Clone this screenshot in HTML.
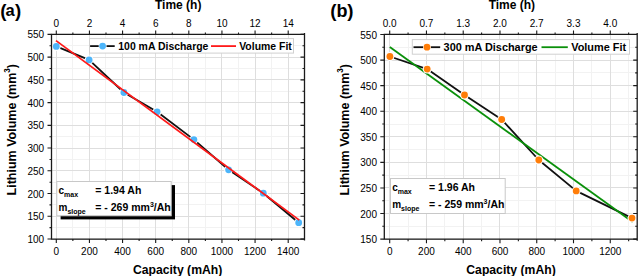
<!DOCTYPE html><html><head><meta charset="utf-8"><style>html,body{margin:0;padding:0;background:#fff;width:638px;height:276px;overflow:hidden}svg{display:block}</style></head><body>
<svg width="638" height="276" viewBox="0 0 638 276" font-family='"Liberation Sans", sans-serif' fill="#000">
<rect width="638" height="276" fill="#fff"/>
<line x1="72.50" y1="34.4" x2="72.50" y2="239.05" stroke="#f2f2f2" stroke-width="1"/>
<line x1="105.50" y1="34.4" x2="105.50" y2="239.05" stroke="#f2f2f2" stroke-width="1"/>
<line x1="139.50" y1="34.4" x2="139.50" y2="239.05" stroke="#f2f2f2" stroke-width="1"/>
<line x1="172.50" y1="34.4" x2="172.50" y2="239.05" stroke="#f2f2f2" stroke-width="1"/>
<line x1="205.50" y1="34.4" x2="205.50" y2="239.05" stroke="#f2f2f2" stroke-width="1"/>
<line x1="238.50" y1="34.4" x2="238.50" y2="239.05" stroke="#f2f2f2" stroke-width="1"/>
<line x1="271.50" y1="34.4" x2="271.50" y2="239.05" stroke="#f2f2f2" stroke-width="1"/>
<line x1="51.5" y1="45.50" x2="304.5" y2="45.50" stroke="#f2f2f2" stroke-width="1"/>
<line x1="51.5" y1="68.50" x2="304.5" y2="68.50" stroke="#f2f2f2" stroke-width="1"/>
<line x1="51.5" y1="91.50" x2="304.5" y2="91.50" stroke="#f2f2f2" stroke-width="1"/>
<line x1="51.5" y1="113.50" x2="304.5" y2="113.50" stroke="#f2f2f2" stroke-width="1"/>
<line x1="51.5" y1="136.50" x2="304.5" y2="136.50" stroke="#f2f2f2" stroke-width="1"/>
<line x1="51.5" y1="159.50" x2="304.5" y2="159.50" stroke="#f2f2f2" stroke-width="1"/>
<line x1="51.5" y1="182.50" x2="304.5" y2="182.50" stroke="#f2f2f2" stroke-width="1"/>
<line x1="51.5" y1="204.50" x2="304.5" y2="204.50" stroke="#f2f2f2" stroke-width="1"/>
<line x1="51.5" y1="227.50" x2="304.5" y2="227.50" stroke="#f2f2f2" stroke-width="1"/>
<line x1="56.50" y1="34.4" x2="56.50" y2="239.05" stroke="#dedede" stroke-width="1"/>
<line x1="89.50" y1="34.4" x2="89.50" y2="239.05" stroke="#dedede" stroke-width="1"/>
<line x1="122.50" y1="34.4" x2="122.50" y2="239.05" stroke="#dedede" stroke-width="1"/>
<line x1="155.50" y1="34.4" x2="155.50" y2="239.05" stroke="#dedede" stroke-width="1"/>
<line x1="188.50" y1="34.4" x2="188.50" y2="239.05" stroke="#dedede" stroke-width="1"/>
<line x1="221.50" y1="34.4" x2="221.50" y2="239.05" stroke="#dedede" stroke-width="1"/>
<line x1="255.50" y1="34.4" x2="255.50" y2="239.05" stroke="#dedede" stroke-width="1"/>
<line x1="288.50" y1="34.4" x2="288.50" y2="239.05" stroke="#dedede" stroke-width="1"/>
<line x1="51.5" y1="34.50" x2="304.5" y2="34.50" stroke="#dedede" stroke-width="1"/>
<line x1="51.5" y1="57.50" x2="304.5" y2="57.50" stroke="#dedede" stroke-width="1"/>
<line x1="51.5" y1="79.50" x2="304.5" y2="79.50" stroke="#dedede" stroke-width="1"/>
<line x1="51.5" y1="102.50" x2="304.5" y2="102.50" stroke="#dedede" stroke-width="1"/>
<line x1="51.5" y1="125.50" x2="304.5" y2="125.50" stroke="#dedede" stroke-width="1"/>
<line x1="51.5" y1="148.50" x2="304.5" y2="148.50" stroke="#dedede" stroke-width="1"/>
<line x1="51.5" y1="170.50" x2="304.5" y2="170.50" stroke="#dedede" stroke-width="1"/>
<line x1="51.5" y1="193.50" x2="304.5" y2="193.50" stroke="#dedede" stroke-width="1"/>
<line x1="51.5" y1="216.50" x2="304.5" y2="216.50" stroke="#dedede" stroke-width="1"/>
<line x1="51.5" y1="239.50" x2="304.5" y2="239.50" stroke="#dedede" stroke-width="1"/>
<rect x="89.5" y="38.6" width="204" height="14.5" fill="#fff" stroke="#d0d0d0" stroke-width="1"/>
<line x1="90.1" y1="46.1" x2="114.7" y2="46.1" stroke="#111" stroke-width="1.8"/>
<circle cx="102.6" cy="46.1" r="4.0" fill="#fff"/>
<circle cx="102.6" cy="46.1" r="3.4" fill="#4db5fa"/>
<text x="118.3" y="49.9" font-size="10.45" font-weight="bold">100 mA Discharge</text>
<line x1="211" y1="46.1" x2="236" y2="46.1" stroke="#ff1a1a" stroke-width="1.8"/>
<text x="239.2" y="49.9" font-size="10.45" font-weight="bold">Volume Fit</text>
<rect x="60.599999999999994" y="185.1" width="114.4" height="34.3" fill="#000"/>
<rect x="56.8" y="181.5" width="114.4" height="34.3" fill="#fff" stroke="#c8c8c8" stroke-width="1"/>
<text x="58.5" y="193.9" font-size="10" font-weight="bold">c<tspan font-size="7" dy="3.3">max</tspan></text>
<text x="58.5" y="211.1" font-size="10" font-weight="bold">m<tspan font-size="7" dy="3.3">slope</tspan></text>
<text x="95.3" y="193.9" font-size="10.5" font-weight="bold">= 1.94 Ah</text>
<text x="95.3" y="211.1" font-size="10.5" font-weight="bold">= - 269 mm<tspan font-size="7" dy="-4">3</tspan><tspan dy="4">/Ah</tspan></text>
<path d="M56.3,46.4 L89.1,59.9 L123.9,92.5 L157.1,111.8 L193.9,139.6 L228.6,169.8 L263.3,193.2 L298.7,222.7" fill="none" stroke="#111" stroke-width="1.8" stroke-linejoin="round"/>
<circle cx="56.3" cy="46.4" r="4.5" fill="#fff"/>
<circle cx="89.1" cy="59.9" r="4.5" fill="#fff"/>
<circle cx="123.9" cy="92.5" r="4.5" fill="#fff"/>
<circle cx="157.1" cy="111.8" r="4.5" fill="#fff"/>
<circle cx="193.9" cy="139.6" r="4.5" fill="#fff"/>
<circle cx="228.6" cy="169.8" r="4.5" fill="#fff"/>
<circle cx="263.3" cy="193.2" r="4.5" fill="#fff"/>
<circle cx="298.7" cy="222.7" r="4.5" fill="#fff"/>
<circle cx="56.3" cy="46.4" r="3.4" fill="#4db5fa"/>
<circle cx="89.1" cy="59.9" r="3.4" fill="#4db5fa"/>
<circle cx="123.9" cy="92.5" r="3.4" fill="#4db5fa"/>
<circle cx="157.1" cy="111.8" r="3.4" fill="#4db5fa"/>
<circle cx="193.9" cy="139.6" r="3.4" fill="#4db5fa"/>
<circle cx="228.6" cy="169.8" r="3.4" fill="#4db5fa"/>
<circle cx="263.3" cy="193.2" r="3.4" fill="#4db5fa"/>
<circle cx="298.7" cy="222.7" r="3.4" fill="#4db5fa"/>
<line x1="56.0" y1="40.6" x2="299.3" y2="220.1" stroke="#ff1a1a" stroke-width="1.8"/>
<path d="M51.5,34.4 H304.5 M51.5,239.05 H304.5 M51.5,33.8 V239.65 M304.5,32.9 V240.55" stroke="#1a1a1a" stroke-width="1.3" fill="none"/>
<path d="M56.30,34.4 v-4 M56.30,239.05 v4 M89.43,34.4 v-4 M89.43,239.05 v4 M122.56,34.4 v-4 M122.56,239.05 v4 M155.68,34.4 v-4 M155.68,239.05 v4 M188.81,34.4 v-4 M188.81,239.05 v4 M221.94,34.4 v-4 M221.94,239.05 v4 M255.07,34.4 v-4 M255.07,239.05 v4 M288.20,34.4 v-4 M288.20,239.05 v4 M72.86,34.4 v-2 M72.86,239.05 v2 M105.99,34.4 v-2 M105.99,239.05 v2 M139.12,34.4 v-2 M139.12,239.05 v2 M172.25,34.4 v-2 M172.25,239.05 v2 M205.38,34.4 v-2 M205.38,239.05 v2 M238.50,34.4 v-2 M238.50,239.05 v2 M271.63,34.4 v-2 M271.63,239.05 v2 M51.5,34.40 h-4 M304.5,34.40 h-4 M51.5,57.13 h-4 M304.5,57.13 h-4 M51.5,79.87 h-4 M304.5,79.87 h-4 M51.5,102.60 h-4 M304.5,102.60 h-4 M51.5,125.34 h-4 M304.5,125.34 h-4 M51.5,148.07 h-4 M304.5,148.07 h-4 M51.5,170.81 h-4 M304.5,170.81 h-4 M51.5,193.55 h-4 M304.5,193.55 h-4 M51.5,216.28 h-4 M304.5,216.28 h-4 M51.5,239.02 h-4 M304.5,239.02 h-4 M51.5,45.77 h-2 M304.5,45.77 h-2 M51.5,68.50 h-2 M304.5,68.50 h-2 M51.5,91.24 h-2 M304.5,91.24 h-2 M51.5,113.97 h-2 M304.5,113.97 h-2 M51.5,136.71 h-2 M304.5,136.71 h-2 M51.5,159.44 h-2 M304.5,159.44 h-2 M51.5,182.18 h-2 M304.5,182.18 h-2 M51.5,204.91 h-2 M304.5,204.91 h-2 M51.5,227.65 h-2 M304.5,227.65 h-2" stroke="#1a1a1a" stroke-width="1.1" fill="none"/>
<text x="56.30" y="254.6" font-size="10" text-anchor="middle">0</text>
<text x="89.43" y="254.6" font-size="10" text-anchor="middle">200</text>
<text x="122.56" y="254.6" font-size="10" text-anchor="middle">400</text>
<text x="155.68" y="254.6" font-size="10" text-anchor="middle">600</text>
<text x="188.81" y="254.6" font-size="10" text-anchor="middle">800</text>
<text x="221.94" y="254.6" font-size="10" text-anchor="middle">1000</text>
<text x="255.07" y="254.6" font-size="10" text-anchor="middle">1200</text>
<text x="288.20" y="254.6" font-size="10" text-anchor="middle">1400</text>
<text x="56.30" y="26.7" font-size="10" text-anchor="middle">0</text>
<text x="89.43" y="26.7" font-size="10" text-anchor="middle">2</text>
<text x="122.56" y="26.7" font-size="10" text-anchor="middle">4</text>
<text x="155.68" y="26.7" font-size="10" text-anchor="middle">6</text>
<text x="188.81" y="26.7" font-size="10" text-anchor="middle">8</text>
<text x="221.94" y="26.7" font-size="10" text-anchor="middle">10</text>
<text x="255.07" y="26.7" font-size="10" text-anchor="middle">12</text>
<text x="288.20" y="26.7" font-size="10" text-anchor="middle">14</text>
<text x="44.2" y="38.40" font-size="10" text-anchor="end">550</text>
<text x="44.2" y="61.13" font-size="10" text-anchor="end">500</text>
<text x="44.2" y="83.87" font-size="10" text-anchor="end">450</text>
<text x="44.2" y="106.60" font-size="10" text-anchor="end">400</text>
<text x="44.2" y="129.34" font-size="10" text-anchor="end">350</text>
<text x="44.2" y="152.07" font-size="10" text-anchor="end">300</text>
<text x="44.2" y="174.81" font-size="10" text-anchor="end">250</text>
<text x="44.2" y="197.55" font-size="10" text-anchor="end">200</text>
<text x="44.2" y="220.28" font-size="10" text-anchor="end">150</text>
<text x="44.2" y="243.02" font-size="10" text-anchor="end">100</text>
<text x="178.2" y="9" font-size="12" font-weight="bold" text-anchor="middle">Time (h)</text>
<text x="177.6" y="273.5" font-size="12.2" font-weight="bold" text-anchor="middle">Capacity (mAh)</text>
<text transform="translate(15.6,129.7) rotate(-90)" font-size="12.5" font-weight="bold" text-anchor="middle">Lithium Volume (mm<tspan font-size="8.2" dy="-5.6">3</tspan><tspan dy="5.6">)</tspan></text>
<text x="0.2" y="16.9" font-size="18.7" font-weight="bold">(</text>
<text x="5.6" y="16.3" font-size="16.5" font-weight="bold">a</text>
<text x="14.9" y="16.9" font-size="18.7" font-weight="bold">)</text>
<line x1="408.50" y1="34.4" x2="408.50" y2="239.2" stroke="#f2f2f2" stroke-width="1"/>
<line x1="444.50" y1="34.4" x2="444.50" y2="239.2" stroke="#f2f2f2" stroke-width="1"/>
<line x1="481.50" y1="34.4" x2="481.50" y2="239.2" stroke="#f2f2f2" stroke-width="1"/>
<line x1="518.50" y1="34.4" x2="518.50" y2="239.2" stroke="#f2f2f2" stroke-width="1"/>
<line x1="555.50" y1="34.4" x2="555.50" y2="239.2" stroke="#f2f2f2" stroke-width="1"/>
<line x1="591.50" y1="34.4" x2="591.50" y2="239.2" stroke="#f2f2f2" stroke-width="1"/>
<line x1="628.50" y1="34.4" x2="628.50" y2="239.2" stroke="#f2f2f2" stroke-width="1"/>
<line x1="384.3" y1="47.50" x2="637.2" y2="47.50" stroke="#f2f2f2" stroke-width="1"/>
<line x1="384.3" y1="72.50" x2="637.2" y2="72.50" stroke="#f2f2f2" stroke-width="1"/>
<line x1="384.3" y1="98.50" x2="637.2" y2="98.50" stroke="#f2f2f2" stroke-width="1"/>
<line x1="384.3" y1="124.50" x2="637.2" y2="124.50" stroke="#f2f2f2" stroke-width="1"/>
<line x1="384.3" y1="149.50" x2="637.2" y2="149.50" stroke="#f2f2f2" stroke-width="1"/>
<line x1="384.3" y1="175.50" x2="637.2" y2="175.50" stroke="#f2f2f2" stroke-width="1"/>
<line x1="384.3" y1="200.50" x2="637.2" y2="200.50" stroke="#f2f2f2" stroke-width="1"/>
<line x1="384.3" y1="226.50" x2="637.2" y2="226.50" stroke="#f2f2f2" stroke-width="1"/>
<line x1="389.50" y1="34.4" x2="389.50" y2="239.2" stroke="#dedede" stroke-width="1"/>
<line x1="426.50" y1="34.4" x2="426.50" y2="239.2" stroke="#dedede" stroke-width="1"/>
<line x1="463.50" y1="34.4" x2="463.50" y2="239.2" stroke="#dedede" stroke-width="1"/>
<line x1="499.50" y1="34.4" x2="499.50" y2="239.2" stroke="#dedede" stroke-width="1"/>
<line x1="536.50" y1="34.4" x2="536.50" y2="239.2" stroke="#dedede" stroke-width="1"/>
<line x1="573.50" y1="34.4" x2="573.50" y2="239.2" stroke="#dedede" stroke-width="1"/>
<line x1="610.50" y1="34.4" x2="610.50" y2="239.2" stroke="#dedede" stroke-width="1"/>
<line x1="384.3" y1="34.50" x2="637.2" y2="34.50" stroke="#dedede" stroke-width="1"/>
<line x1="384.3" y1="60.50" x2="637.2" y2="60.50" stroke="#dedede" stroke-width="1"/>
<line x1="384.3" y1="85.50" x2="637.2" y2="85.50" stroke="#dedede" stroke-width="1"/>
<line x1="384.3" y1="111.50" x2="637.2" y2="111.50" stroke="#dedede" stroke-width="1"/>
<line x1="384.3" y1="136.50" x2="637.2" y2="136.50" stroke="#dedede" stroke-width="1"/>
<line x1="384.3" y1="162.50" x2="637.2" y2="162.50" stroke="#dedede" stroke-width="1"/>
<line x1="384.3" y1="187.50" x2="637.2" y2="187.50" stroke="#dedede" stroke-width="1"/>
<line x1="384.3" y1="213.50" x2="637.2" y2="213.50" stroke="#dedede" stroke-width="1"/>
<line x1="384.3" y1="239.50" x2="637.2" y2="239.50" stroke="#dedede" stroke-width="1"/>
<rect x="412.3" y="39.6" width="217.2" height="14.6" fill="#fff" stroke="#d0d0d0" stroke-width="1"/>
<line x1="413.5" y1="47.2" x2="440.2" y2="47.2" stroke="#111" stroke-width="1.8"/>
<circle cx="427" cy="47.2" r="4.0" fill="#fff"/>
<circle cx="427" cy="47.2" r="3.4" fill="#ff7d08"/>
<text x="443.6" y="50.9" font-size="10.9" font-weight="bold">300 mA Discharge</text>
<line x1="541.5" y1="47.2" x2="567.8" y2="47.2" stroke="#0a900a" stroke-width="1.8"/>
<text x="571.2" y="50.9" font-size="10.9" font-weight="bold">Volume Fit</text>
<rect x="390.5" y="178.5" width="114.7" height="35" fill="#fff" stroke="#c8c8c8" stroke-width="1"/>
<text x="392.2" y="190.6" font-size="10" font-weight="bold">c<tspan font-size="7" dy="3.3">max</tspan></text>
<text x="392.2" y="207.8" font-size="10" font-weight="bold">m<tspan font-size="7" dy="3.3">slope</tspan></text>
<text x="429.0" y="190.6" font-size="10.5" font-weight="bold">= 1.96 Ah</text>
<text x="429.0" y="207.8" font-size="10.5" font-weight="bold">= - 259 mm<tspan font-size="7" dy="-4">3</tspan><tspan dy="4">/Ah</tspan></text>
<path d="M389.9,56.5 L427.2,69.1 L464.5,95.0 L501.7,119.5 L538.8,160.0 L576.2,190.9 L632.0,218.1" fill="none" stroke="#111" stroke-width="1.8" stroke-linejoin="round"/>
<line x1="389.8" y1="47.1" x2="632.7" y2="222.0" stroke="#0a900a" stroke-width="1.8"/>
<circle cx="389.9" cy="56.5" r="4.5" fill="#fff"/>
<circle cx="427.2" cy="69.1" r="4.5" fill="#fff"/>
<circle cx="464.5" cy="95.0" r="4.5" fill="#fff"/>
<circle cx="501.7" cy="119.5" r="4.5" fill="#fff"/>
<circle cx="538.8" cy="160.0" r="4.5" fill="#fff"/>
<circle cx="576.2" cy="190.9" r="4.5" fill="#fff"/>
<circle cx="632.0" cy="218.1" r="4.5" fill="#fff"/>
<circle cx="389.9" cy="56.5" r="3.4" fill="#ff7d08"/>
<circle cx="427.2" cy="69.1" r="3.4" fill="#ff7d08"/>
<circle cx="464.5" cy="95.0" r="3.4" fill="#ff7d08"/>
<circle cx="501.7" cy="119.5" r="3.4" fill="#ff7d08"/>
<circle cx="538.8" cy="160.0" r="3.4" fill="#ff7d08"/>
<circle cx="576.2" cy="190.9" r="3.4" fill="#ff7d08"/>
<circle cx="632.0" cy="218.1" r="3.4" fill="#ff7d08"/>
<path d="M384.3,34.4 H637.2 M384.3,239.2 H637.2 M384.3,33.8 V239.79999999999998 M637.2,32.9 V240.7" stroke="#1a1a1a" stroke-width="1.3" fill="none"/>
<path d="M389.70,34.4 v-4 M389.70,239.2 v4 M426.46,34.4 v-4 M426.46,239.2 v4 M463.22,34.4 v-4 M463.22,239.2 v4 M499.98,34.4 v-4 M499.98,239.2 v4 M536.74,34.4 v-4 M536.74,239.2 v4 M573.50,34.4 v-4 M573.50,239.2 v4 M610.26,34.4 v-4 M610.26,239.2 v4 M408.08,34.4 v-2 M408.08,239.2 v2 M444.84,34.4 v-2 M444.84,239.2 v2 M481.60,34.4 v-2 M481.60,239.2 v2 M518.36,34.4 v-2 M518.36,239.2 v2 M555.12,34.4 v-2 M555.12,239.2 v2 M591.88,34.4 v-2 M591.88,239.2 v2 M628.64,34.4 v-2 M628.64,239.2 v2 M384.3,34.50 h-4 M637.2,34.50 h-4 M384.3,60.08 h-4 M637.2,60.08 h-4 M384.3,85.65 h-4 M637.2,85.65 h-4 M384.3,111.22 h-4 M637.2,111.22 h-4 M384.3,136.80 h-4 M637.2,136.80 h-4 M384.3,162.38 h-4 M637.2,162.38 h-4 M384.3,187.95 h-4 M637.2,187.95 h-4 M384.3,213.52 h-4 M637.2,213.52 h-4 M384.3,239.10 h-4 M637.2,239.10 h-4 M384.3,47.29 h-2 M637.2,47.29 h-2 M384.3,72.86 h-2 M637.2,72.86 h-2 M384.3,98.44 h-2 M637.2,98.44 h-2 M384.3,124.01 h-2 M637.2,124.01 h-2 M384.3,149.59 h-2 M637.2,149.59 h-2 M384.3,175.16 h-2 M637.2,175.16 h-2 M384.3,200.74 h-2 M637.2,200.74 h-2 M384.3,226.31 h-2 M637.2,226.31 h-2" stroke="#1a1a1a" stroke-width="1.1" fill="none"/>
<text x="389.70" y="254.6" font-size="10" text-anchor="middle">0</text>
<text x="426.46" y="254.6" font-size="10" text-anchor="middle">200</text>
<text x="463.22" y="254.6" font-size="10" text-anchor="middle">400</text>
<text x="499.98" y="254.6" font-size="10" text-anchor="middle">600</text>
<text x="536.74" y="254.6" font-size="10" text-anchor="middle">800</text>
<text x="573.50" y="254.6" font-size="10" text-anchor="middle">1000</text>
<text x="610.26" y="254.6" font-size="10" text-anchor="middle">1200</text>
<text x="389.70" y="26.7" font-size="10" text-anchor="middle">0.0</text>
<text x="426.46" y="26.7" font-size="10" text-anchor="middle">0.7</text>
<text x="463.22" y="26.7" font-size="10" text-anchor="middle">1.3</text>
<text x="499.98" y="26.7" font-size="10" text-anchor="middle">2.0</text>
<text x="536.74" y="26.7" font-size="10" text-anchor="middle">2.7</text>
<text x="573.50" y="26.7" font-size="10" text-anchor="middle">3.3</text>
<text x="610.26" y="26.7" font-size="10" text-anchor="middle">4.0</text>
<text x="377.0" y="38.50" font-size="10" text-anchor="end">550</text>
<text x="377.0" y="64.08" font-size="10" text-anchor="end">500</text>
<text x="377.0" y="89.65" font-size="10" text-anchor="end">450</text>
<text x="377.0" y="115.22" font-size="10" text-anchor="end">400</text>
<text x="377.0" y="140.80" font-size="10" text-anchor="end">350</text>
<text x="377.0" y="166.38" font-size="10" text-anchor="end">300</text>
<text x="377.0" y="191.95" font-size="10" text-anchor="end">250</text>
<text x="377.0" y="217.52" font-size="10" text-anchor="end">200</text>
<text x="377.0" y="243.10" font-size="10" text-anchor="end">150</text>
<text x="511.9" y="9" font-size="12" font-weight="bold" text-anchor="middle">Time (h)</text>
<text x="511.0" y="273.5" font-size="12.2" font-weight="bold" text-anchor="middle">Capacity (mAh)</text>
<text transform="translate(348.7,129.7) rotate(-90)" font-size="12.5" font-weight="bold" text-anchor="middle">Lithium Volume (mm<tspan font-size="8.2" dy="-5.6">3</tspan><tspan dy="5.6">)</tspan></text>
<text x="330.2" y="16.9" font-size="18.7" font-weight="bold">(</text>
<text x="336.4" y="16.8" font-size="18" font-weight="bold">b</text>
<text x="347.3" y="16.9" font-size="18.7" font-weight="bold">)</text>
</svg></body></html>
